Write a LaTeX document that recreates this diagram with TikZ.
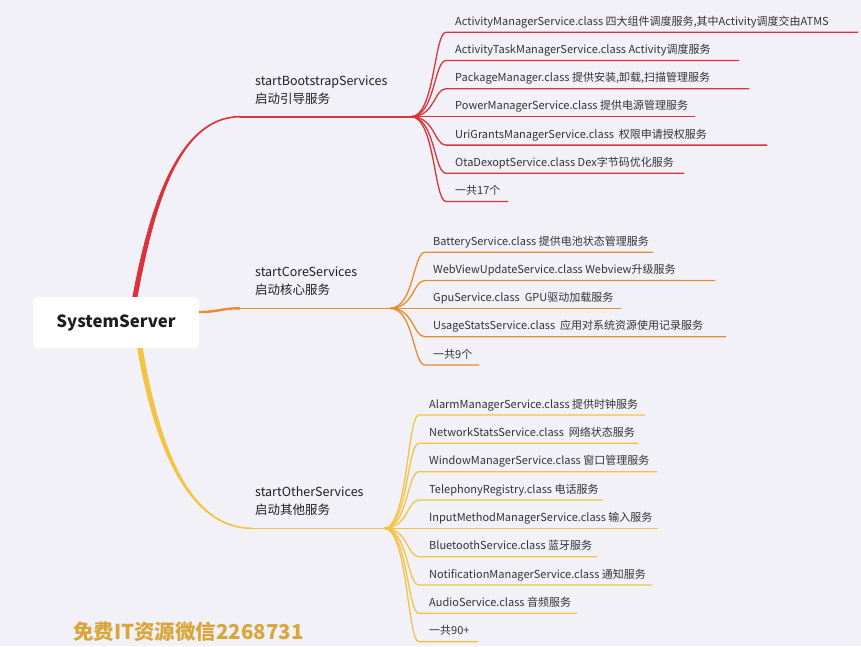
\documentclass[tikz,border=0pt]{standalone}
\usepackage{fontspec}
\setmainfont{Noto Sans CJK SC}
\usepackage{xcolor}
\usetikzlibrary{positioning, calc}
\definecolor{canvas}{HTML}{F3F1F8}
\definecolor{bootred}{HTML}{D9343E}
\definecolor{coreorange}{HTML}{E98A30}
\definecolor{otheryellow}{HTML}{F2C443}
\definecolor{itemtext}{HTML}{333333}
\definecolor{headtext}{HTML}{1E1E1E}
\definecolor{goldtext}{HTML}{D9A63B}
\tikzset{
    % Node styles
    root box/.style={rectangle, fill=white, rounded corners=5pt, minimum width=166pt,
                     minimum height=51pt, text=headtext, font=\bfseries\fontsize{16.8}{20}\selectfont},
    head/.style={anchor=south west, inner sep=0pt, align=left, text=headtext,
                 font=\fontsize{12.5}{18}\selectfont},
    item/.style={anchor=base west, inner sep=0pt, text=itemtext, font=\fontsize{11}{13}\selectfont},
    watermark/.style={anchor=west, inner sep=0pt, text=goldtext, font=\bfseries\fontsize{20.5}{22}\selectfont},
    % Branch styles
    twig/.style={to path={.. controls +(24,0) and +(-12,0) .. (\tikztotarget)}},
    boot line/.style={draw=bootred, line width=1.3pt},
    core line/.style={draw=coreorange, line width=1.3pt},
    other line/.style={draw=otheryellow, line width=1.3pt},
}

\begin{document}
\begin{tikzpicture}[x=1pt, y=-1pt]
    % Canvas
    \fill[canvas] (0,0) rectangle (861,646);
    \useasboundingbox (0,0) rectangle (861,646);

    % Root
    \node[root box] (root) at (116,322.5) {SystemServer};

    % Trunks
    \coordinate (rbase) at ($(root.north)+(19,0)$);
    \coordinate (bstart) at (240,116.7);
    \coordinate (bfork) at (411,116.7);
    \fill[bootred] ($(rbase)+(-2.6,0)$) .. controls +(15,-80) and +(-65,0) .. ($(bstart)+(0,-0.8)$)
        -- ($(bstart)+(0,0.8)$) .. controls +(-64,0) and +(15,-80) .. ($(rbase)+(2.6,0)$) -- cycle;
    \draw[boot line, line width=1.6pt] (bstart) -- (bfork);

    \coordinate (obase) at ($(root.east)+(0,-10.5)$);
    \coordinate (cstart) at (240,308.3);
    \coordinate (cfork) at (390,308.3);
    \draw[core line, line width=2.4pt] (obase) .. controls +(20,0) and +(-20,0) .. (cstart);
    \draw[core line, line width=1.6pt] (cstart) -- (cfork);

    \coordinate (ybase) at ($(root.south)+(24,0)$);
    \coordinate (ostart) at (252,528.3);
    \coordinate (ofork) at (384,528.3);
    \fill[otheryellow] ($(ybase)+(-2.8,0)$) .. controls +(18,107) and +(-60,0) .. ($(ostart)+(0,0.8)$)
        -- ($(ostart)+(0,-0.8)$) .. controls +(-59,0) and +(18,107) .. ($(ybase)+(2.8,0)$) -- cycle;
    \draw[other line, line width=1.6pt] (ostart) -- (ofork);

    % Branch labels
    \node[head] (boot) at (255,104.5) {startBootstrapServices\\启动引导服务};
    \node[head] (core) at (255,296) {startCoreServices\\启动核心服务};
    \node[head] (other) at (255,515.5) {startOtherServices\\启动其他服务};

    % Bootstrap services
    \coordinate (b1) at (446,32.3);
    \node[item] (b1t) at ($(b1)+(9,-7)$) {ActivityManagerService.class 四大组件调度服务,其中Activity调度交由ATMS};
    \coordinate (b2) at (446,60.5);
    \node[item] (b2t) at ($(b2)+(9,-7)$) {ActivityTaskManagerService.class Activity调度服务};
    \coordinate (b3) at (446,88.7);
    \node[item] (b3t) at ($(b3)+(9,-7)$) {PackageManager.class 提供安装,卸载,扫描管理服务};
    \coordinate (b4) at (446,116.7);
    \node[item] (b4t) at ($(b4)+(9,-7)$) {PowerManagerService.class 提供电源管理服务};
    \coordinate (b5) at (446,145.1);
    \node[item] (b5t) at ($(b5)+(9,-7)$) {UriGrantsManagerService.class~ 权限申请授权服务};
    \coordinate (b6) at (446,173.3);
    \node[item] (b6t) at ($(b6)+(9,-7)$) {OtaDexoptService.class Dex字节码优化服务};
    \coordinate (b7) at (446,201.5);
    \node[item] (b7t) at ($(b7)+(9,-7)$) {一共17个};

    \draw[boot line] (bfork) to[twig] (b1) -- +(412,0);
    \draw[boot line] (bfork) to[twig] (b2) -- +(293,0);
    \draw[boot line] (bfork) to[twig] (b3) -- +(303,0);
    \draw[boot line] (bfork) to[twig] (b4) -- +(249,0);
    \draw[boot line] (bfork) to[twig] (b5) -- +(321,0);
    \draw[boot line] (bfork) to[twig] (b6) -- +(238,0);
    \draw[boot line] (bfork) to[twig] (b7) -- +(62,0);

    % Core services
    \coordinate (c1) at (425,252.3);
    \node[item] (c1t) at ($(c1)+(8,-7)$) {BatteryService.class 提供电池状态管理服务};
    \coordinate (c2) at (425,280.5);
    \node[item] (c2t) at ($(c2)+(8,-7)$) {WebViewUpdateService.class Webview升级服务};
    \coordinate (c3) at (425,308.3);
    \node[item] (c3t) at ($(c3)+(8,-7)$) {GpuService.class~ GPU驱动加载服务};
    \coordinate (c4) at (425,336.7);
    \node[item] (c4t) at ($(c4)+(8,-7)$) {UsageStatsService.class~ 应用对系统资源使用记录服务};
    \coordinate (c5) at (425,365);
    \node[item] (c5t) at ($(c5)+(8,-7)$) {一共9个};

    \draw[core line] (cfork) to[twig] (c1) -- +(228,0);
    \draw[core line] (cfork) to[twig] (c2) -- +(290,0);
    \draw[core line] (cfork) to[twig] (c3) -- +(196,0);
    \draw[core line] (cfork) to[twig] (c4) -- +(301,0);
    \draw[core line] (cfork) to[twig] (c5) -- +(54,0);

    % Other services
    \coordinate (o1) at (419,415);
    \node[item] (o1t) at ($(o1)+(10,-7)$) {AlarmManagerService.class 提供时钟服务};
    \coordinate (o2) at (419,443.3);
    \node[item] (o2t) at ($(o2)+(10,-7)$) {NetworkStatsService.class~ 网络状态服务};
    \coordinate (o3) at (419,471.7);
    \node[item] (o3t) at ($(o3)+(10,-7)$) {WindowManagerService.class 窗口管理服务};
    \coordinate (o4) at (419,500);
    \node[item] (o4t) at ($(o4)+(10,-7)$) {TelephonyRegistry.class 电话服务};
    \coordinate (o5) at (419,528.3);
    \node[item] (o5t) at ($(o5)+(10,-7)$) {InputMethodManagerService.class 输入服务};
    \coordinate (o6) at (419,556.7);
    \node[item] (o6t) at ($(o6)+(10,-7)$) {BluetoothService.class 蓝牙服务};
    \coordinate (o7) at (419,585);
    \node[item] (o7t) at ($(o7)+(10,-7)$) {NotificationManagerService.class 通知服务};
    \coordinate (o8) at (419,613.3);
    \node[item] (o8t) at ($(o8)+(10,-7)$) {AudioService.class 音频服务};
    \coordinate (o9) at (419,641.6);
    \node[item] (o9t) at ($(o9)+(10,-7)$) {一共90+};

    \draw[other line] (ofork) to[twig] (o1) -- +(226,0);
    \draw[other line] (ofork) to[twig] (o2) -- +(219,0);
    \draw[other line] (ofork) to[twig] (o3) -- +(238,0);
    \draw[other line] (ofork) to[twig] (o4) -- +(184,0);
    \draw[other line] (ofork) to[twig] (o5) -- +(239,0);
    \draw[other line] (ofork) to[twig] (o6) -- +(178,0);
    \draw[other line] (ofork) to[twig] (o7) -- +(233,0);
    \draw[other line] (ofork) to[twig] (o8) -- +(158,0);
    \draw[other line] (ofork) to[twig] (o9) -- +(59,0);

    % Watermark
    \node[watermark] (wm) at (73,632) {免费IT资源微信2268731};
\end{tikzpicture}
\end{document}
